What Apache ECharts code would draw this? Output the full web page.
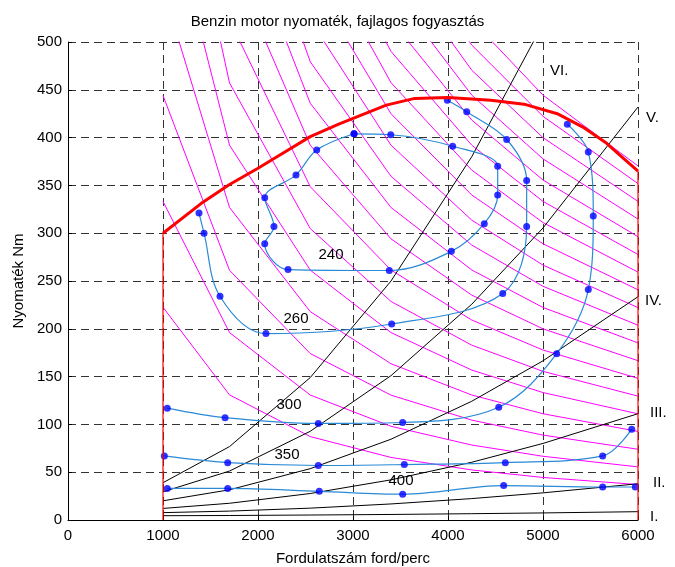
<!DOCTYPE html>
<html>
<head>
<meta charset="utf-8">
<script src="https://cdn.jsdelivr.net/npm/echarts@6/dist/echarts.min.js"></script>
<style>
html, body { margin: 0; padding: 0; background: #fff; }
#chart { width: 675px; height: 567px; }
</style>
</head>
<body>
<div id="chart"></div>
<script>
// rpm points where the power and gear curves were sampled
var sampleRpm = [1000, 1700, 2550, 3400, 4250, 5000, 6000];

// constant power lines, kW (torque = 9549 * P / n)
var powerKw = [23.3, 34.9, 46.5, 58.2, 69.8, 81.4, 93.1, 104.7, 116.4, 128.0,
               139.6, 151.3, 162.9, 174.5, 186.2, 197.8, 209.4, 221.1, 232.7];

// road load in each gear, Nm at sampleRpm
var gearI   = [4.5, 4.7, 5.2, 5.8, 6.6, 7.4, 8.7];
var gearII  = [7.7, 9.3, 12.4, 16.8, 22.4, 28.4, 37.9];
var gearIII = [12.1, 17.5, 27.7, 42.0, 60.4, 80.1, 111.2];
var gearIV  = [20.1, 31.6, 53.7, 84.5, 124.2, 166.5, 233.6];
var gearV   = [29.5, 51.2, 92.8, 151.0, 225.7, 305.5, 432.0];
var gearVI  = [39.0, 76.8, 149.0, 250.0, 380.0, 519.0, 739.0];

// full load torque curve
var maxTorque = [[1000, 300], [1400, 331], [1700, 351], [2000, 368], [2200, 380],
  [2550, 401], [2850, 414], [3100, 424], [3350, 434], [3650, 441], [4000, 442],
  [4450, 439], [4800, 435], [5150, 425], [5420, 411], [5670, 394], [5850, 378], [6000, 365]];

// specific consumption contours g/kWh (measured points)
var bsfc240 = [[3011, 404], [3397, 403], [4049, 391], [4523, 370], [4523, 340],
  [4382, 310], [4035, 281], [3382, 261], [2316, 262], [2071, 289], [2168, 307],
  [2071, 337], [2400, 361], [2618, 387], [3011, 404]];
var bsfc260 = [[1379, 321], [1432, 300], [1600, 234], [2084, 195], [3407, 205],
  [4576, 237], [4828, 307], [4828, 355], [4618, 398], [4197, 427], [3993, 439]];
var bsfc300 = [[1045, 117], [1653, 107], [2635, 101], [3523, 102], [4534, 118],
  [5144, 174], [5477, 241], [5529, 318], [5477, 385], [5256, 414]];
var bsfc350 = [[1014, 67], [1681, 60], [2635, 57], [3540, 58], [4603, 60],
  [5628, 67], [5934, 95]];
var bsfc400 = [[1045, 33], [1681, 33], [2645, 30], [3523, 27], [4586, 36],
  [5628, 34.5], [5972, 34.5]];

var FONT = '"Liberation Sans", Arial, sans-serif';
var series = [];

powerKw.forEach(function (p) {
  series.push({
    type: 'line', symbol: 'none', silent: true, z: 1,
    lineStyle: { color: '#ff00ff', width: 1 },
    data: sampleRpm.map(function (n) { return [n, 9549 * p / n]; })
  });
});

[gearI, gearII, gearIII, gearIV, gearV, gearVI].forEach(function (g) {
  series.push({
    type: 'line', symbol: 'none', silent: true, z: 2,
    lineStyle: { color: '#000', width: 1 },
    data: sampleRpm.map(function (n, i) { return [n, g[i]]; })
  });
});

[bsfc240, bsfc260, bsfc300, bsfc350, bsfc400].forEach(function (c) {
  series.push({
    type: 'line', symbol: 'none', smooth: 0.35, silent: true, z: 3,
    lineStyle: { color: '#2a8ad6', width: 1.2 },
    data: c
  });
  series.push({
    type: 'scatter', symbolSize: 7, silent: true, z: 4,
    itemStyle: { color: '#0000ff' },
    data: c
  });
});

var first = maxTorque[0], last = maxTorque[maxTorque.length - 1];
series.push({
  type: 'line', symbol: 'none', silent: true, z: 5,
  lineStyle: { color: '#ff0000', width: 1.2 },
  data: [[first[0], 0], first]
});
series.push({
  type: 'line', symbol: 'none', silent: true, z: 5,
  lineStyle: { color: '#ff0000', width: 1.2 },
  data: [last, [last[0], 0]]
});
series.push({
  type: 'line', symbol: 'none', silent: true, z: 6,
  lineStyle: { color: '#ff0000', width: 3 },
  data: maxTorque
});

function txt(s, x, y, align) {
  return {
    type: 'text', x: x, y: y, z: 10,
    style: { text: s, fill: '#000', font: '15px ' + FONT,
             textAlign: align || 'left', textVerticalAlign: 'middle' }
  };
}

var chart = echarts.init(document.getElementById('chart'));
chart.setOption({
  animation: false,
  backgroundColor: '#fff',
  title: {
    text: 'Benzin motor nyomaték, fajlagos fogyasztás',
    left: 'center', top: 9,
    textStyle: { fontFamily: FONT, fontSize: 15, fontWeight: 'normal', color: '#000' }
  },
  grid: { left: 68, right: 37, top: 42, bottom: 47, containLabel: false, outerBoundsMode: 'none' },
  xAxis: {
    type: 'value', min: 0, max: 6000, interval: 1000,
    name: 'Fordulatszám ford/perc', nameLocation: 'middle', nameGap: 31,
    nameTextStyle: { fontFamily: FONT, fontSize: 15, color: '#000' },
    axisLine: { lineStyle: { color: '#000', width: 1 } },
    axisTick: { inside: true, length: 4, lineStyle: { color: '#000' } },
    axisLabel: { fontFamily: FONT, fontSize: 15, color: '#000', margin: 8,
                 formatter: function (v) { return String(v); } },
    splitLine: { show: true, lineStyle: { color: '#333', width: 1, type: [8, 5] } }
  },
  yAxis: {
    type: 'value', min: 0, max: 500, interval: 50,
    name: 'Nyomaték Nm', nameLocation: 'middle', nameGap: 40,
    nameTextStyle: { fontFamily: FONT, fontSize: 15, color: '#000' },
    axisLine: { show: true, lineStyle: { color: '#000', width: 1 } },
    axisTick: { show: true, inside: true, length: 4, lineStyle: { color: '#000' } },
    axisLabel: { fontFamily: FONT, fontSize: 15, color: '#000', margin: 6 },
    splitLine: { show: true, lineStyle: { color: '#333', width: 1, type: [8, 5] } }
  },
  graphic: [
    txt('VI.', 550, 71), txt('V.', 646, 118), txt('IV.', 645, 301),
    txt('III.', 650, 413), txt('II.', 653, 483), txt('I.', 650, 517),
    txt('240', 331, 255, 'center'), txt('260', 296, 319, 'center'),
    txt('300', 289, 405, 'center'), txt('350', 287, 455, 'center'),
    txt('400', 401, 481, 'center')
  ],
  series: series
});
</script>
</body>
</html>
